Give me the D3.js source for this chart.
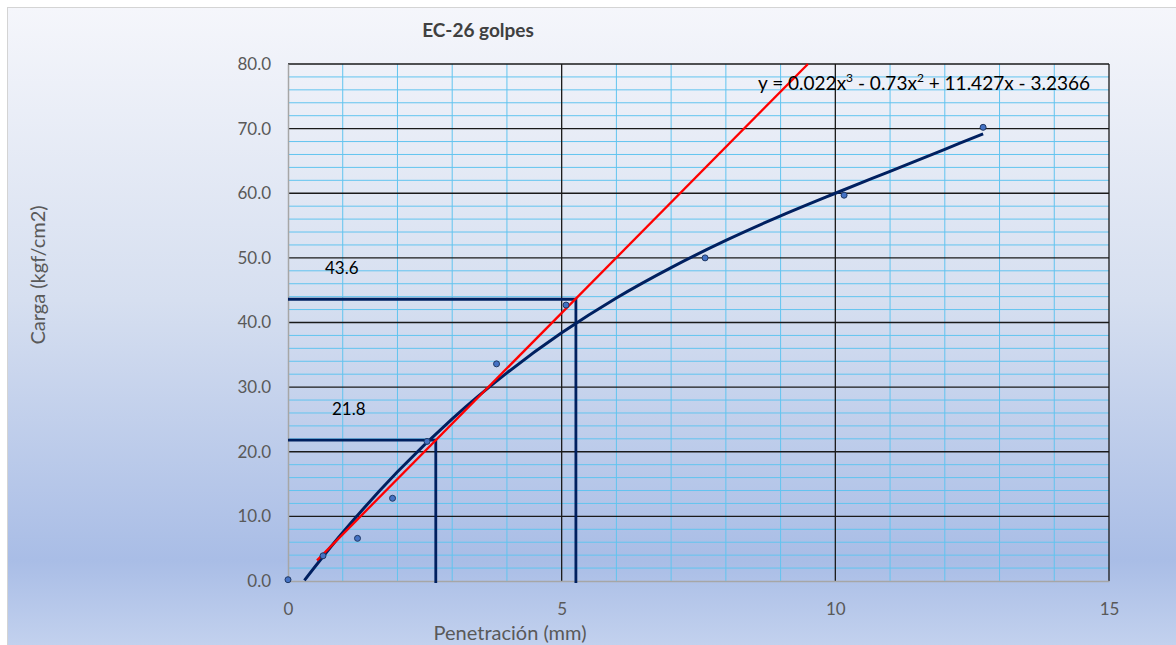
<html>
<script src="https://d3js.org/d3.v7.min.js"></script>
<style>
    body { margin: 0; }
    text { font-family: Lato, "Open Sans", sans-serif; }
    .tick text { fill: #595959; font-size: 17px; }
    .minor { stroke: #62c4ef; stroke-width: 1px; }
    .major { stroke: #1a1a1a; stroke-width: 1.3px; }
    .pt { fill: #4472c4; stroke: #1f3864; stroke-width: 1px; }
</style>
<svg width=1176 height=645></svg>
<script>
    // ensayo CBR, 26 golpes
    let pen = [0, 0.64, 1.27, 1.91, 2.54, 3.81, 5.08, 7.62, 10.16, 12.70];
    let carga = [0.2, 3.9, 6.6, 12.8, 21.6, 33.6, 42.7, 50.0, 59.7, 70.2];

    // linea de tendencia (polinomica)
    let trendX = [0.3, 1, 2, 3, 4, 5, 6, 7, 8, 9, 10, 11, 12, 12.7];
    let trendY = [0.1, 7.5, 16.9, 25.1, 32.2, 38.4, 43.8, 48.5, 52.7, 56.5, 60.0, 63.4, 66.8, 69.2];

    // recta corregida
    let rectaX = [0.53, 9.5];
    let rectaY = [3.2, 80];

    // lecturas a 2.54 y 5.08 corregidas
    let lectX = [2.7, 5.26];
    let lectY = [21.8, 43.6];
    let lectLabel = ['21.8', '43.6'];

    let xTicks = [0, 5, 10, 15];
    let yTicks = [0, 10, 20, 30, 40, 50, 60, 70, 80];

    let svg = d3.select('svg');

    let defs = svg.append('defs');
    let grad = defs.append('linearGradient').attr('id', 'bg')
        .attr('x1', 0).attr('y1', 0).attr('x2', 0).attr('y2', 1);
    grad.append('stop').attr('offset', '0%').attr('stop-color', '#f5f6fb');
    grad.append('stop').attr('offset', '45%').attr('stop-color', '#d6dff0');
    grad.append('stop').attr('offset', '85%').attr('stop-color', '#a9bde6');
    grad.append('stop').attr('offset', '100%').attr('stop-color', '#c6d4ef');

    svg.append('rect')
        .attr('x', 7.5).attr('y', 7.5).attr('width', 1180).attr('height', 650)
        .attr('fill', 'url(#bg)').attr('stroke', '#d4d4d4');

    let x = d3.scaleLinear().domain([0, 15]).range([288, 1109]);
    let y = d3.scaleLinear().domain([0, 80]).range([581, 64]);

    // grilla
    let g = svg.append('g');
    g.selectAll('.vmin').data(d3.range(1, 15).filter(d => d % 5 != 0)).enter()
        .append('line').attr('class', 'minor')
        .attr('x1', d => x(d)).attr('x2', d => x(d)).attr('y1', y(0)).attr('y2', y(80));
    g.selectAll('.hmin').data(d3.range(2, 80, 2).filter(d => d % 10 != 0)).enter()
        .append('line').attr('class', 'minor')
        .attr('y1', d => y(d)).attr('y2', d => y(d)).attr('x1', x(0)).attr('x2', x(15));
    g.selectAll('.hmaj').data(yTicks.slice(1)).enter()
        .append('line').attr('class', 'major')
        .attr('y1', d => y(d)).attr('y2', d => y(d)).attr('x1', x(0)).attr('x2', x(15));
    g.selectAll('.vmaj').data(xTicks.slice(1)).enter()
        .append('line').attr('class', 'major')
        .attr('stroke', d => d == 15 ? '#000' : '#404040')
        .attr('x1', d => x(d)).attr('x2', d => x(d)).attr('y1', y(0)).attr('y2', y(80));

    // ejes
    svg.append('g').attr('transform', 'translate(0,' + y(0) + ')')
        .call(d3.axisBottom(x).tickValues(xTicks).tickSize(0).tickPadding(22));
    svg.append('g').attr('transform', 'translate(' + x(0) + ',0)')
        .call(d3.axisLeft(y).tickValues(yTicks).tickFormat(d3.format('.1f')).tickSize(0).tickPadding(17));
    svg.selectAll('.domain').attr('stroke', '#a6a6a6').attr('stroke-width', 1.5);

    // lineas de lectura
    let navy = '#002060';
    lectX.forEach((lx, i) => {
        svg.append('path')
            .attr('d', 'M' + x(0) + ',' + y(lectY[i]) + 'H' + x(lx) + 'V' + (y(0) + 2))
            .attr('fill', 'none').attr('stroke', navy).attr('stroke-width', 2.8);
        svg.append('text')
            .attr('x', x(0) + (i == 0 ? 44 : 37)).attr('y', y(lectY[i]) - 25)
            .attr('font-size', 17).attr('fill', '#000')
            .text(lectLabel[i]);
    });

    // tendencia
    let trend = trendX.map((d, i) => [d, trendY[i]]);
    svg.append('path').datum(trend)
        .attr('d', d3.line().x(d => x(d[0])).y(d => y(d[1])).curve(d3.curveCatmullRom))
        .attr('fill', 'none').attr('stroke', navy).attr('stroke-width', 3);

    // recta
    svg.append('path').datum(rectaX.map((d, i) => [d, rectaY[i]]))
        .attr('d', d3.line().x(d => x(d[0])).y(d => y(d[1])))
        .attr('fill', 'none').attr('stroke', '#ff0000').attr('stroke-width', 2.3);

    // puntos
    svg.selectAll('.pt').data(pen).enter()
        .append('circle').attr('class', 'pt')
        .attr('cx', d => x(d)).attr('cy', (d, i) => y(carga[i])).attr('r', 3);

    // ecuacion
    let eq = svg.append('text').attr('x', 758).attr('y', 90).attr('font-size', 19).attr('fill', '#000');
    eq.append('tspan').text('y = 0.022x');
    eq.append('tspan').attr('dy', -8).attr('font-size', 12).text('3');
    eq.append('tspan').attr('dy', 8).text(' - 0.73x');
    eq.append('tspan').attr('dy', -8).attr('font-size', 12).text('2');
    eq.append('tspan').attr('dy', 8).text(' + 11.427x - 3.2366');

    // titulos
    svg.append('text').attr('x', 478).attr('y', 37).attr('text-anchor', 'middle')
        .attr('font-size', 19).attr('font-weight', 'bold').attr('fill', '#404040')
        .text('EC-26 golpes');
    svg.append('text').attr('x', 510).attr('y', 640).attr('text-anchor', 'middle')
        .attr('font-size', 20).attr('fill', '#595959')
        .text('Penetración (mm)');
    svg.append('text').attr('transform', 'translate(45,275) rotate(-90)').attr('text-anchor', 'middle')
        .attr('font-size', 20).attr('fill', '#595959')
        .text('Carga (kgf/cm2)');
</script>
</html>
